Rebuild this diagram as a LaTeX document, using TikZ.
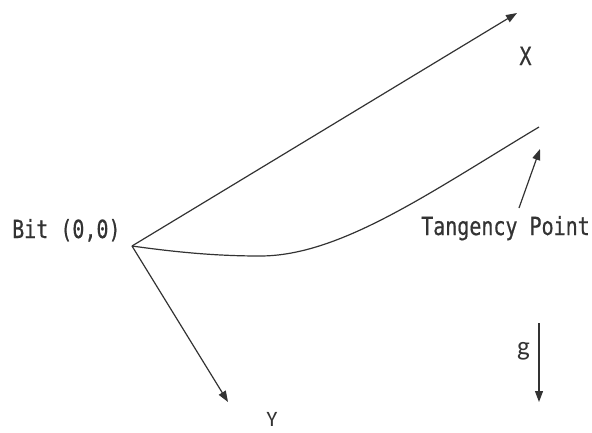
\documentclass[tikz,border=0pt]{standalone}
\usepackage{fontspec}
\newfontfamily\labfont[FakeStretch=0.8,FakeBold=0.6]{DejaVu Sans Mono}
\newfontfamily\calfont{Carlito}
\usetikzlibrary{arrows.meta}
\begin{document}
\begin{tikzpicture}[x=1pt,y=-1pt,
  ln/.style={draw=black!80, line width=1.2pt},
  arr/.style={ln, -{Triangle[length=11pt,width=8pt]}},
  mono/.style={inner sep=0pt, font=\labfont\fontsize{25}{28}\selectfont, text=black!80},
  cal/.style={inner sep=0pt, text=black!80}]
\useasboundingbox (0,0) rectangle (592,432);
\coordinate (O) at (132,246);
\coordinate (Xt) at (517,13);
\coordinate (Yt) at (228,402);
\coordinate (Cm) at (260,256);
\coordinate (Ce) at (539,127);
\coordinate (Ta) at (519,208);
\coordinate (Tb) at (540,149);
\coordinate (Ga) at (539,323);
\coordinate (Gb) at (539,402);
\draw[arr] (O) -- (Xt);
\draw[arr] (O) -- (Yt);
\draw[ln] (O) .. controls (175,252) and (215,256) .. (Cm)
               .. controls (340,256) and (429,193) .. (Ce);
\draw[arr] (Ta) -- (Tb);
\draw[arr] (Ga) -- (Gb);
\node[mono, anchor=base west] (bit) at (12,238) {Bit (0,0)};
\node[mono, anchor=base] (xl) at (525.5,65) {X};
\node[mono, anchor=base west] (tp) at (421,235) {Tangency Point};
\node[cal, anchor=base, font=\calfont\fontsize{22}{24}\selectfont] (yl) at (272,426) {Y};
\node[cal, anchor=base, font=\calfont\fontsize{27}{30}\selectfont] (gl) at (523.5,355) {g};
\end{tikzpicture}
\end{document}
